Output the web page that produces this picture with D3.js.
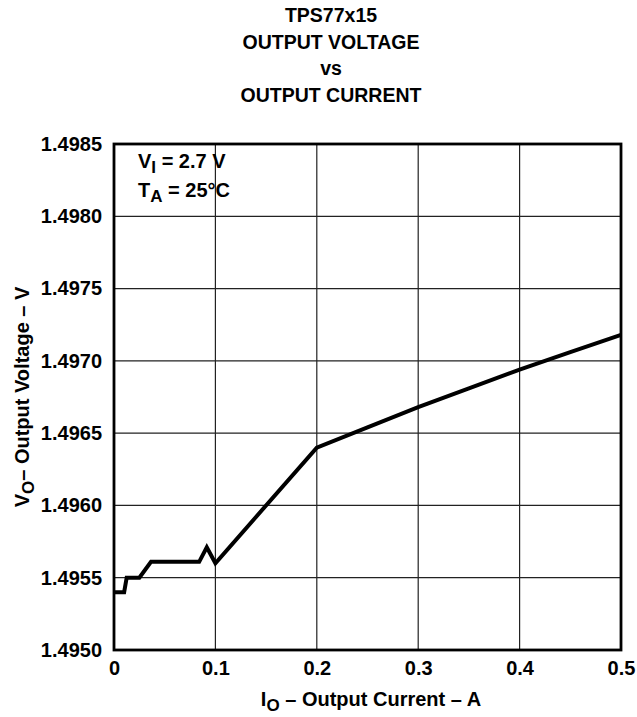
<!DOCTYPE html>
<html>
<head>
<meta charset="utf-8">
<script src="https://cdn.jsdelivr.net/npm/d3@7"></script>
<style>
  body { margin: 0; background: #fff; }
  text { font-family: "Liberation Sans", Arial, sans-serif; font-weight: bold; fill: #000; }
</style>
</head>
<body>
<div id="chart"></div>
<script>
// output current (A) and output voltage (V)
const currentA = [0, 0.010, 0.0125, 0.025, 0.0365, 0.084, 0.0915, 0.100, 0.200, 0.250, 0.300, 0.350, 0.400, 0.450, 0.500]
const voltageV = [1.4954, 1.4954, 1.4955, 1.4955, 1.49561, 1.49561, 1.49571, 1.4956, 1.4964, 1.49654, 1.49668, 1.49681, 1.49694, 1.49706, 1.49718]
const xTicks = [0, 0.1, 0.2, 0.3, 0.4, 0.5]
const yTicks = [1.4950, 1.4955, 1.4960, 1.4965, 1.4970, 1.4975, 1.4980, 1.4985]
const titleLines = ["TPS77x15", "OUTPUT VOLTAGE", "vs", "OUTPUT CURRENT"]

const W = 637, H = 717
const margin = {top: 144, right: 16, bottom: 67, left: 114}
const width = W - margin.left - margin.right,
      height = H - margin.top - margin.bottom
const fs = 20

const root = d3.select("#chart").append("svg")
    .attr("width", W)
    .attr("height", H)
const svg = root.append("g")
    .attr("transform", "translate(" + margin.left + "," + margin.top + ")")

const x = d3.scaleLinear().domain([0, 0.5]).range([0, width])
const y = d3.scaleLinear().domain([1.4950, 1.4985]).range([height, 0])

// grid
svg.append("g")
    .selectAll("line")
    .data(xTicks.slice(1, -1))
    .join("line")
    .attr("x1", d => x(d)).attr("x2", d => x(d))
    .attr("y1", 0).attr("y2", height)
    .attr("stroke", "#222").attr("stroke-width", 1.2)
svg.append("g")
    .selectAll("line")
    .data(yTicks.slice(1, -1))
    .join("line")
    .attr("x1", 0).attr("x2", width)
    .attr("y1", d => y(d)).attr("y2", d => y(d))
    .attr("stroke", "#222").attr("stroke-width", 1.2)

// axes (labels only)
svg.append("g")
    .attr("transform", "translate(0," + height + ")")
    .call(d3.axisBottom(x).tickValues(xTicks).tickFormat(d => d === 0 ? "0" : d3.format(".1f")(d))
        .tickSize(0).tickPadding(11))
    .call(g => g.select(".domain").remove())
    .selectAll("text").attr("font-size", fs)
svg.append("g")
    .call(d3.axisLeft(y).tickValues(yTicks).tickFormat(d3.format(".4f"))
        .tickSize(0).tickPadding(12))
    .call(g => g.select(".domain").remove())
    .selectAll("text").attr("font-size", fs)
svg.selectAll(".tick text").attr("font-family", "Liberation Sans, Arial, sans-serif")

// frame
svg.append("rect")
    .attr("width", width).attr("height", height)
    .attr("fill", "none").attr("stroke", "#000").attr("stroke-width", 2.8)

// curve
svg.append("path")
    .datum(currentA.map((c, i) => [c, voltageV[i]]))
    .attr("fill", "none")
    .attr("stroke", "#000")
    .attr("stroke-width", 4)
    .attr("stroke-linejoin", "miter")
    .attr("d", d3.line().x(d => x(d[0])).y(d => y(d[1])))

// title
root.append("g").selectAll("text")
    .data(titleLines)
    .join("text")
    .attr("x", 331)
    .attr("y", (d, i) => 22 + i * 26.7)
    .attr("text-anchor", "middle")
    .attr("font-size", 19.5)
    .text(d => d)

// conditions
const cond = svg.append("text").attr("font-size", fs)
cond.append("tspan").attr("x", 24).attr("y", 24).text("V")
cond.append("tspan").attr("dy", 5).attr("font-size", 17).text("I")
cond.append("tspan").attr("dy", -5).text(" = 2.7 V")
const cond2 = svg.append("text").attr("font-size", fs)
cond2.append("tspan").attr("x", 24).attr("y", 53).text("T")
cond2.append("tspan").attr("dy", 5).attr("font-size", 17).text("A")
cond2.append("tspan").attr("dy", -5).text(" = 25°C")

// x axis title
const xt = root.append("text")
    .attr("x", 371)
    .attr("y", 706)
    .attr("text-anchor", "middle")
    .attr("font-size", fs)
xt.append("tspan").text("I")
xt.append("tspan").attr("dy", 5).attr("font-size", 17).text("O")
xt.append("tspan").attr("dy", -5).text(" – Output Current – A")

// y axis title
const yt = root.append("text")
    .attr("transform", "translate(29," + (margin.top + height / 2) + ") rotate(-90)")
    .attr("text-anchor", "middle")
    .attr("font-size", fs)
yt.append("tspan").text("V")
yt.append("tspan").attr("dy", 5).attr("font-size", 17).text("O")
yt.append("tspan").attr("dy", -5).text("– Output Voltage – V")
</script>
</body>
</html>
